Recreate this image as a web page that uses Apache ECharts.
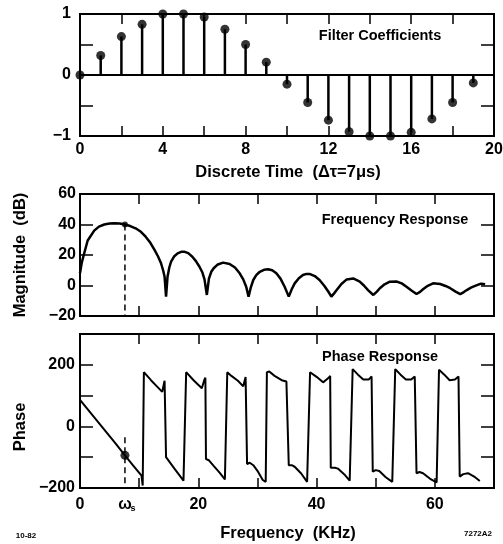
<!DOCTYPE html>
<html><head><meta charset="utf-8">
<script src="https://cdn.jsdelivr.net/npm/echarts@6/dist/echarts.min.js"></script>
<style>html,body{margin:0;padding:0;background:#fff}#c{width:503px;height:544px}</style>
</head><body><div id="c"></div>
<script>
// ---- data ----
const coefIndex = [0,1,2,3,4,5,6,7,8,9,10,11,12,13,14,15,16,17,18,19];
const coefValue = [0,0.32,0.63,0.83,1.0,1.0,0.95,0.75,0.5,0.21,-0.15,-0.45,-0.74,-0.93,-1.0,-1.0,-0.94,-0.72,-0.45,-0.13];

const magFreq = [0,0.3,0.7,1.3,2.4,3.2,4.1,5.0,5.8,6.7,7.6,8.5,9.4,10.3,11.1,11.9,12.6,13.2,13.7,14.05,14.3,14.55,14.8,15.1,15.4,15.9,16.5,17.1,17.6,18.3,19.0,19.6,20.2,20.7,21.05,21.45,21.8,22.2,22.6,23.3,24.2,25.3,26.2,27.0,27.6,28.1,28.5,28.9,29.3,29.8,30.4,31.1,31.8,32.5,33.2,33.9,34.6,35.3,35.8,36.3,37.0,37.7,38.3,38.9,39.7,40.5,41.3,42.0,42.5,43.0,43.4,44.2,45.1,46.2,47.3,48.0,48.7,49.6,50.2,50.7,51.5,52.4,53.5,54.4,55.2,56.1,56.9,57.5,58.0,58.8,59.7,60.9,61.8,62.6,63.5,64.3,64.9,65.4,66.1,66.8,67.8,68.5];
const magDb = [8,15,21,29.5,36,38.6,40,40.6,40.8,40.6,40,39,37.5,35.2,32,28,23.3,19,14.6,10,5.8,-7.3,5.8,11.8,15.6,19,21.1,22.1,22.2,21.2,18.9,16,12.3,8.5,4,-6.2,4.5,9,11.3,13.8,15,14.1,11.8,8,4,-0.8,-7.3,-1,3.6,6.8,9,10.3,10.6,10,8,4.5,-0.8,-7.3,-2.5,1.4,4.8,6.9,7.6,7.5,6.2,3.6,-0.2,-4.1,-7.3,-5,-3,1,4,4.6,2.5,0,-3,-6.2,-4,-1.8,0.8,2.5,2.6,1.4,-0.8,-3.5,-5.6,-4.2,-2.5,-0.2,1.4,1.0,-0.3,-1.8,-4,-5.6,-4.3,-3,-1.4,-0.3,1.2,0.8];

const phaseFreq = [0,2,4,6,7.6,9,10.4,10.6,10.8,12,13,13.9,14.3,14.45,14.55,16,17.5,17.7,17.95,19.2,20.6,21.0,21.2,21.3,21.8,22.6,23.6,24.5,24.7,24.9,25.6,26.7,27.6,28.0,28.15,28.25,28.7,29.3,30.1,30.9,31.4,31.6,32.0,32.9,34.1,34.9,35.2,35.3,35.8,36.3,37.4,38.4,38.7,38.9,40.0,41.1,42.0,42.3,42.4,43.1,43.6,44.8,45.6,45.9,46.1,47.0,47.9,48.8,49.3,49.5,50.0,50.6,51.7,52.8,53.1,53.3,54.2,55.1,56.0,56.6,56.9,57.4,58.0,59.2,60.3,60.5,60.7,61.6,62.5,63.4,64.0,64.2,64.8,65.6,66.8,67.6];
const phaseDeg = [86,39,-8,-55,-94,-127,-160,-192,176,150,130,112,148,152,-100,-138,-176,-182,176,150,124,150,158,-106,-110,-128,-150,-172,-176,176,164,148,130,160,164,-122,-118,-126,-147,-174,-180,176,178,164,150,146,152,-126,-126,-131,-153,-180,-182,176,161,143,157,164,-134,-134,-137,-158,-176,-182,186,168,152,152,162,-147,-142,-145,-165,-180,-184,186,168,152,152,162,-152,-148,-152,-170,-182,-184,184,168,150,152,162,-163,-155,-152,-165,-177];

const omegaS = 7.6;
const magAtOmega = 40;
const phaseAtOmega = -94;
const magDashEnd = -20;
const phaseDashRange = [-35, -185];

const timeTickLabels = [0,4,8,12,16,20];
const coefTickLabels = [1,0,-1];
const magTickLabels = [60,40,20,0,-20];
const freqTickLabels = [0,20,40,60];
const phaseTickLabels = [200,0,-200];

// ---- chart ----
const FONT = '"Liberation Sans", Arial, sans-serif';
const chart = echarts.init(document.getElementById('c'), null, {renderer:'canvas'});
const lbl = (list, fs, margin) => ({
  show: true, fontFamily: FONT, fontWeight: 'bold', fontSize: fs, color: '#000', margin: margin,
  formatter: v => { const n = Math.round(v*1000)/1000; return list.indexOf(n) >= 0 ? String(n).replace('-', '\u2212') : ''; }
});
function xAx(gi, pos, min, max, interval, label) {
  return { gridIndex: gi, type: 'value', position: pos, min, max, interval,
    axisLine: {show:false, onZero:false}, splitLine: {show:false},
    axisTick: {show:true, inside:true, length:10, lineStyle:{color:'#000', width:1.5}},
    axisLabel: label ? label : {show:false} };
}
function yAx(gi, pos, min, max, interval, label) {
  return { gridIndex: gi, type: 'value', position: pos, min, max, interval,
    axisLine: {show:false, onZero:false}, splitLine: {show:false},
    axisTick: {show:true, inside:true, length:13, lineStyle:{color:'#000', width:1.5}},
    axisLabel: label ? label : {show:false} };
}
const gridBase = {left:80, right:9, show:true, borderColor:'#000', borderWidth:2,
  backgroundColor:'transparent', containLabel:false, outerBoundsMode:'none'};

const stemRender = (params, api) => {
  const p0 = api.coord([api.value(0), 0]);
  const p1 = api.coord([api.value(0), api.value(1)]);
  return { type:'line', shape:{x1:p0[0], y1:p0[1], x2:p1[0], y2:p1[1]},
    style:{stroke:'#000', lineWidth:2.5} };
};

const option = {
  backgroundColor: '#fff',
  animation: false,
  grid: [
    Object.assign({top:14, height:122}, gridBase),
    Object.assign({top:194, height:122}, gridBase),
    Object.assign({top:334, height:154}, gridBase)
  ],
  xAxis: [
    xAx(0,'bottom',0,20,2, lbl(timeTickLabels,16,6)),
    xAx(0,'top',0,20,2),
    xAx(1,'bottom',0,70,10),
    xAx(1,'top',0,70,10),
    xAx(2,'bottom',0,70,10, lbl(freqTickLabels,16,9)),
    xAx(2,'top',0,70,10)
  ],
  yAxis: [
    yAx(0,'left',-1,1,0.5, lbl(coefTickLabels,16,9)),
    yAx(0,'right',-1,1,0.5),
    yAx(1,'left',-20,60,20, lbl(magTickLabels,16,4)),
    yAx(1,'right',-20,60,20),
    yAx(2,'left',-200,300,100, lbl(phaseTickLabels,16,5)),
    yAx(2,'right',-200,300,100)
  ],
  series: [
    { type:'custom', xAxisIndex:0, yAxisIndex:0, renderItem: stemRender, clip:false,
      data: coefIndex.map((n,i)=>[n, coefValue[i]]),
      markLine: {silent:true, symbol:'none', label:{show:false},
        lineStyle:{color:'#000', width:2, type:'solid'}, data:[{yAxis:0}]} },
    { type:'scatter', xAxisIndex:0, yAxisIndex:0, symbol:'circle', symbolSize:9, clip:false,
      itemStyle:{color:'#000'}, data: coefIndex.map((n,i)=>[n, coefValue[i]]) },
    { type:'line', xAxisIndex:2, yAxisIndex:2, showSymbol:false, smooth:false,
      lineStyle:{color:'#000', width:2.5}, data: magFreq.map((f,i)=>[f, magDb[i]]) },
    { type:'line', xAxisIndex:2, yAxisIndex:2, showSymbol:false,
      lineStyle:{color:'#000', width:1.5, type:[6,4]}, data: [[omegaS, magAtOmega],[omegaS, magDashEnd]] },
    { type:'scatter', xAxisIndex:2, yAxisIndex:2, symbolSize:6, itemStyle:{color:'#000'}, data:[[omegaS, magAtOmega]] },
    { type:'line', xAxisIndex:4, yAxisIndex:4, showSymbol:false,
      lineStyle:{color:'#000', width:2}, data: phaseFreq.map((f,i)=>[f, phaseDeg[i]]) },
    { type:'line', xAxisIndex:4, yAxisIndex:4, showSymbol:false,
      lineStyle:{color:'#000', width:1.5, type:[6,4]}, data: [[omegaS, phaseDashRange[0]],[omegaS, phaseDashRange[1]]] },
    { type:'scatter', xAxisIndex:4, yAxisIndex:4, symbolSize:9, itemStyle:{color:'#000'}, data:[[omegaS, phaseAtOmega]] }
  ]
};
chart.setOption(option);

function txt(x, y, text, fs, rot, weight) {
  return { type:'text', x, y, rotation: rot || 0, silent:true,
    style:{ text, fill:'#000', font: (weight||'bold') + ' ' + fs + 'px ' + FONT,
      textAlign:'center', align:'center', textVerticalAlign:'middle', verticalAlign:'middle' } };
}
const wsPix = chart.convertToPixel({xAxisIndex:4, yAxisIndex:4}, [omegaS, -200]);
chart.setOption({ graphic: [
  txt(380, 36, 'Filter Coefficients', 14.5),
  txt(395, 220, 'Frequency Response', 14.5),
  txt(380, 357, 'Phase Response', 14.5),
  txt(288, 172, 'Discrete Time  (\u0394\u03c4=7\u03bcs)', 16.5),
  txt(288, 533, 'Frequency  (KHz)', 16.5),
  txt(20, 255, 'Magnitude  (dB)', 16.5, Math.PI/2),
  txt(20, 427, 'Phase', 16.5, Math.PI/2),
  txt(wsPix[0], wsPix[1] + 17, '\u03c9', 16),
  txt(wsPix[0] + 8, wsPix[1] + 21, 's', 9),
  txt(26, 536, '10-82', 8),
  txt(478, 534, '7272A2', 8)
]});
</script></body></html>
